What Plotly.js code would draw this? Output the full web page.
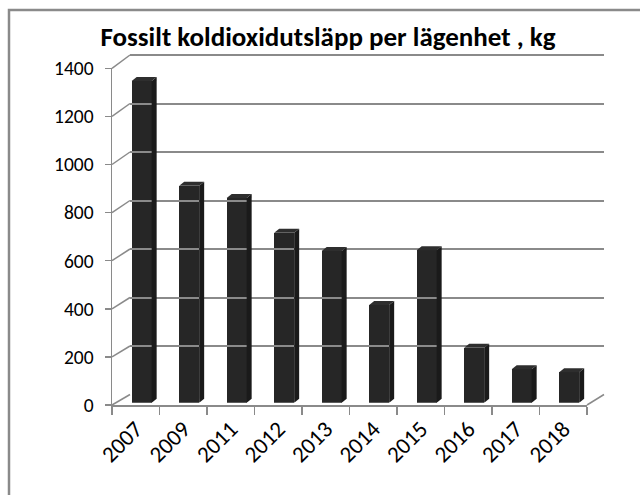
<!DOCTYPE html>
<html>
<head>
<meta charset="utf-8">
<script src="https://cdn.plot.ly/plotly-3.0.1.min.js"></script>
<style>html,body{margin:0;padding:0;background:#fff;}#chart{width:640px;height:495px;}</style>
</head>
<body>
<div id="chart"></div>
<script>
// ---- data ----
const years = ['2007','2009','2011','2012','2013','2014','2015','2016','2017','2018'];
const emissions = [1335, 900, 850, 705, 630, 405, 633, 228, 139, 126];
const yTicks = [0, 200, 400, 600, 800, 1000, 1200, 1400];
const titleText = 'Fossilt koldioxidutsläpp per lägenhet , kg';

// ---- geometry / styling ----
const W = 640, H = 495;
const M = {l: 112, r: 36, t: 50, b: 90};
const PW = W - M.l - M.r, PH = H - M.t - M.b;
const fx = px => (px - M.l) / PW;          // pixel -> paper x
const fy = py => (H - M.b - py) / PH;      // pixel -> paper y
const yMax = 1400;
// front plane: x 112..587, y 0@405, 1400@68.3
const frontX = [fx(112), fx(587)], frontY = [fy(405), fy(68.3)];
// back wall: x 130..604, y 0@394.5, 1400@55 (range padded so the top grid line shows)
const backTop = 1420;
const backX = [fx(130), fx(604)];
const backY = [fy(394.5), fy(394.5 - (394.5 - 55) * backTop / yMax)];
// bar plane: 0@402.7, 1400@65.4
const barY = [fy(402.7), fy(65.4)];
const gray = '#8a8a8a';
const font = 'Carlito, Calibri, "Liberation Sans Narrow", Roboto, sans-serif';

const xIdx = years.map((_, i) => i);
const barW = 0.42, barOff = -0.085;
const unitPx = PW * (frontX[1] - frontX[0]) / years.length;
const depthDx = 5 / unitPx;
const depthDy = 4 * yMax / (PH * (barY[1] - barY[0]));

const shapes = [];
// outer chart frame
shapes.push({type: 'rect', xref: 'paper', yref: 'paper',
  x0: fx(9), x1: fx(660), y0: fy(520), y1: fy(10),
  line: {color: gray, width: 2.5}, fillcolor: 'rgba(0,0,0,0)', layer: 'below'});
// left wall connectors from front ticks to back grid lines
yTicks.forEach(v => {
  shapes.push({type: 'line', xref: 'paper', yref: 'paper',
    x0: frontX[0], x1: backX[0],
    y0: frontY[0] + v / yMax * (frontY[1] - frontY[0]),
    y1: backY[0] + v / backTop * (backY[1] - backY[0]),
    line: {color: gray, width: 1.5}, layer: 'below'});
});
// right floor connector
shapes.push({type: 'line', xref: 'paper', yref: 'paper',
  x0: frontX[1], y0: frontY[0], x1: backX[1], y1: backY[0],
  line: {color: gray, width: 1.5}, layer: 'below'});
// 3D faces of bars (side + top)
emissions.forEach((v, i) => {
  const xl = i + barOff, xr = i + barOff + barW;
  shapes.push({type: 'path', xref: 'x', yref: 'y3',
    path: `M ${xr},0 L ${xr + depthDx},${depthDy} L ${xr + depthDx},${v + depthDy} L ${xr},${v} Z`,
    fillcolor: '#1a1a1a', line: {width: 0}});
  shapes.push({type: 'path', xref: 'x', yref: 'y3',
    path: `M ${xl},${v} L ${xl + depthDx},${v + depthDy} L ${xr + depthDx},${v + depthDy} L ${xr},${v} Z`,
    fillcolor: '#2e2e2e', line: {width: 0}});
});

const traces = [
  {type: 'scatter', x: [0], y: [0], xaxis: 'x', yaxis: 'y', mode: 'markers',
   marker: {opacity: 0}, hoverinfo: 'skip', showlegend: false},
  {type: 'scatter', x: [0], y: [0], xaxis: 'x2', yaxis: 'y2', mode: 'markers',
   marker: {opacity: 0}, hoverinfo: 'skip', showlegend: false},
  {type: 'bar', x: xIdx, y: emissions, xaxis: 'x', yaxis: 'y3',
   width: barW, offset: barOff, marker: {color: '#262626', line: {width: 0}},
   showlegend: false}
];

const layout = {
  width: W, height: H,
  margin: M,
  paper_bgcolor: '#fff', plot_bgcolor: 'rgba(0,0,0,0)',
  font: {family: font, color: '#000'},
  title: {text: '<b>' + titleText + '</b>', font: {family: font, size: 27, color: '#000'},
          xref: 'container', x: 328 / W, xanchor: 'center',
          yref: 'container', y: 1 - 37 / H, yanchor: 'middle'},
  xaxis: {domain: frontX, range: [-0.5, years.length - 0.5], anchor: 'y',
          tickmode: 'array', tickvals: xIdx, ticktext: years, ticks: '',
          tickangle: -45, tickfont: {size: 23, family: font, color: '#000'},
          showline: true, linecolor: gray, linewidth: 1.5, showgrid: false, zeroline: false,
          minor: {tickmode: 'linear', tick0: -0.5, dtick: 1, ticks: 'outside', ticklen: 8,
                  tickcolor: gray, tickwidth: 1.5, showgrid: false},
          fixedrange: true},
  yaxis: {domain: frontY, range: [0, yMax], anchor: 'x',
          tickmode: 'array', tickvals: yTicks, ticks: 'outside', ticklen: 6,
          tickcolor: gray, tickwidth: 1.5, showline: true, linecolor: gray, linewidth: 1.5,
          showgrid: false, zeroline: false, ticklabelstandoff: 7,
          tickfont: {size: 19.5, family: font, color: '#000'}, fixedrange: true},
  xaxis2: {domain: backX, range: [-0.5, years.length - 0.5], anchor: 'y2',
           showticklabels: false, ticks: '', showline: false, showgrid: false, zeroline: false},
  yaxis2: {domain: backY, range: [0, backTop], anchor: 'x2', tickmode: 'array', tickvals: yTicks,
           showticklabels: false, ticks: '', showline: false, showgrid: true,
           gridcolor: gray, gridwidth: 2, zeroline: false},
  yaxis3: {domain: barY, range: [0, yMax], anchor: 'x', visible: false},
  shapes: shapes,
  bargap: 0
};

Plotly.newPlot('chart', traces, layout, {displayModeBar: false, staticPlot: true});
</script>
</body>
</html>
